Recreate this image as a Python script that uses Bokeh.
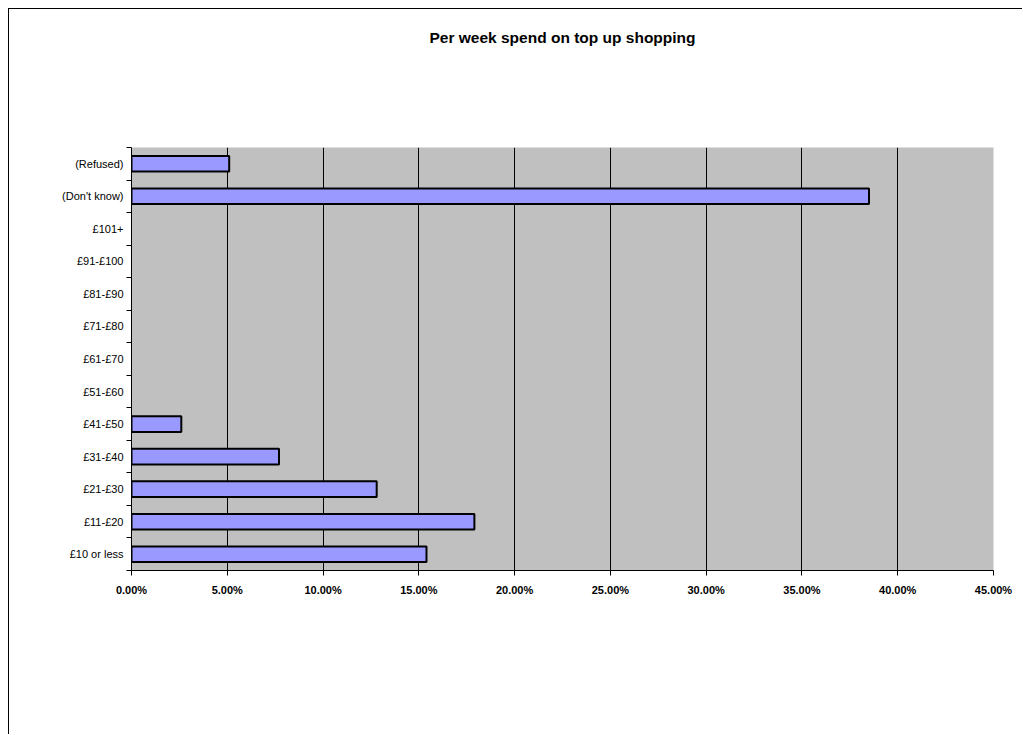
from bokeh.plotting import figure
from bokeh.models import Range1d, FixedTicker, NumeralTickFormatter, ColumnDataSource, CDSView, BooleanFilter, Title
from bokeh.embed import file_html
from bokeh.resources import INLINE

# bottom-to-top order
categories = ["£10 or less", "£11-£20", "£21-£30", "£31-£40", "£41-£50", "£51-£60",
              "£61-£70", "£71-£80", "£81-£90", "£91-£100", "£101+", "(Don't know)", "(Refused)"]
values = [0.154, 0.179, 0.128, 0.077, 0.026, 0.0, 0.0, 0.0, 0.0, 0.0, 0.0, 0.385, 0.051]
x_ticks = [0.0, 0.05, 0.10, 0.15, 0.20, 0.25, 0.30, 0.35, 0.40, 0.45]
title_text = "Per week spend on top up shopping"

n = len(categories)
positions = [i + 0.5 for i in range(n)]
src = ColumnDataSource(dict(y=positions, v=values, cat=categories))
view = CDSView(filter=BooleanFilter([v > 0 for v in values]))

FONT = "Liberation Sans"

p = figure(width=1014, height=726, output_backend="svg", toolbar_location=None,
           x_range=Range1d(0, 0.45), y_range=Range1d(0, n),
           min_border_left=122, min_border_right=30, min_border_top=138, min_border_bottom=165)
p.styles = {"border-left": "1px solid #000000", "border-top": "1px solid #000000",
            "margin-left": "8px", "margin-top": "8px"}

# spacer between the title and the plot frame
p.add_layout(Title(text=" ", text_font_size="1px", standoff=82), "above")

p.title.text = title_text
p.title.align = "center"
p.title.text_font = FONT
p.title.text_font_size = "15.5px"
p.title.text_font_style = "bold"
p.title.text_color = "#000000"
p.title.standoff = 34

p.background_fill_color = "#C0C0C0"
p.border_fill_color = "#FFFFFF"
p.outline_line_color = None

p.hbar(y="y", left=0, right="v", height=0.48, source=src, view=view,
       fill_color="#9999FF", line_color="#000000", line_width=2)

# grid
p.ygrid.grid_line_color = None
p.xgrid.ticker = FixedTicker(ticks=x_ticks)
p.xgrid.grid_line_color = "#000000"
p.xgrid.grid_line_width = 1

# x axis
p.xaxis.ticker = FixedTicker(ticks=x_ticks)
p.xaxis.formatter = NumeralTickFormatter(format="0.00%")
p.xaxis.major_label_text_font = FONT
p.xaxis.major_label_text_font_size = "11px"
p.xaxis.major_label_text_font_style = "bold"
p.xaxis.major_label_text_color = "#000000"
p.xaxis.major_tick_out = 5
p.xaxis.major_tick_in = 0
p.xaxis.minor_tick_line_color = None
p.xaxis.axis_line_color = "#000000"
p.xaxis.major_label_standoff = 8

# y axis: labels at category centres, ticks at boundaries
p.yaxis.ticker = FixedTicker(ticks=positions, minor_ticks=list(range(n + 1)))
p.yaxis.major_label_overrides = {pos: c for pos, c in zip(positions, categories)}
p.yaxis.major_tick_line_color = None
p.yaxis.minor_tick_out = 5
p.yaxis.minor_tick_in = 0
p.yaxis.minor_tick_line_color = "#000000"
p.yaxis.axis_line_color = "#000000"
p.yaxis.major_label_text_font = FONT
p.yaxis.major_label_text_font_size = "11px"
p.yaxis.major_label_text_color = "#000000"
p.yaxis.major_label_standoff = 2

open("out.html", "w").write(file_html(p, INLINE))
